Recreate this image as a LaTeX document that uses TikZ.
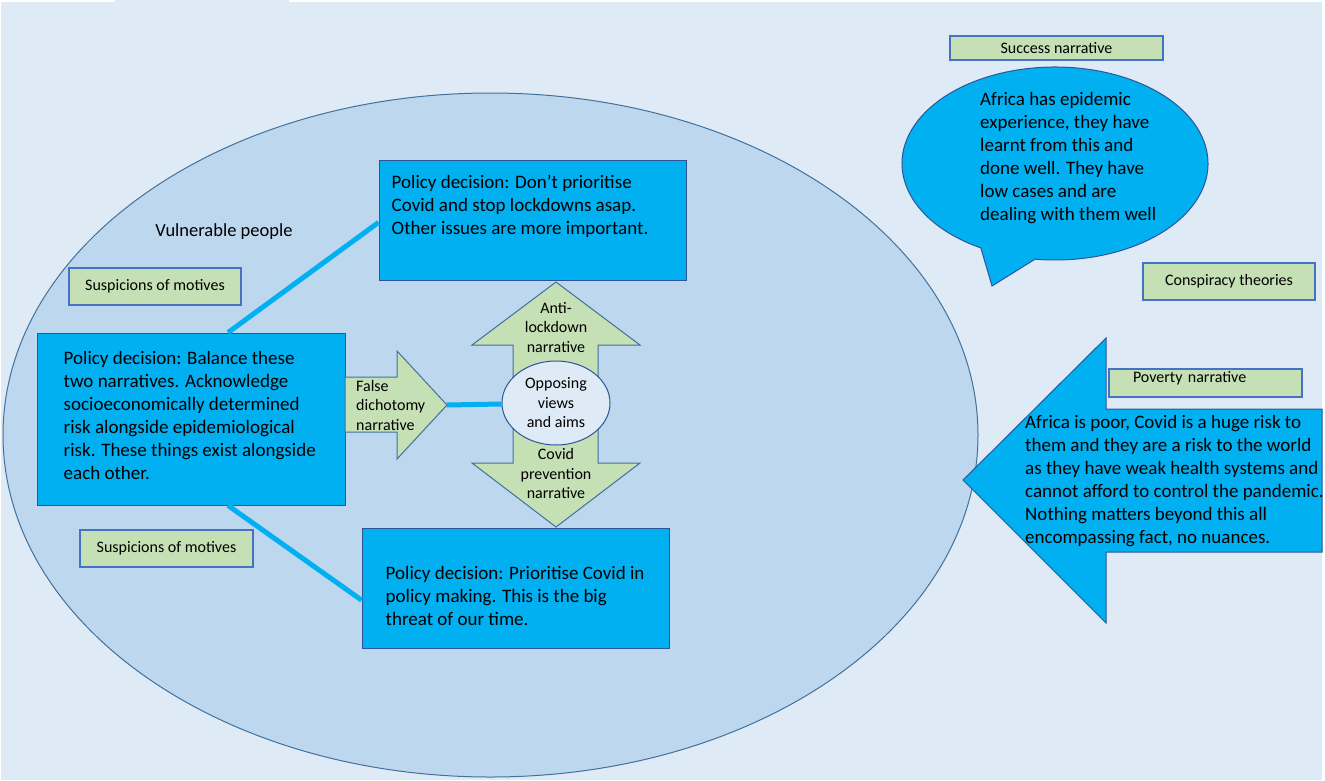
\documentclass[tikz,border=0pt]{standalone}
\usepackage{fontspec}
\setmainfont{Carlito}
\usepackage{tikz}
\usetikzlibrary{shapes.geometric,positioning,calc}
\definecolor{page}{HTML}{DEEBF7}
\definecolor{region}{HTML}{BDD7EE}
\definecolor{edge}{HTML}{2F5597}
\definecolor{rim}{HTML}{41719C}
\definecolor{cyanbox}{HTML}{00B0F0}
\definecolor{leaf}{HTML}{C5E0B4}
\definecolor{tagedge}{HTML}{4472C4}

\begin{document}
\begin{tikzpicture}[
  x=1pt,y=-1pt,
  every node/.style={text=black},
  decision/.style={rectangle,draw=edge,fill=cyanbox,line width=1pt,inner sep=0pt},
  bodytext/.style={anchor=north west,align=left,inner sep=0pt,font=\fontsize{19}{23}\selectfont},
  tagbox/.style={rectangle,draw=tagedge,fill=leaf,line width=1.2pt,inner sep=0pt,font=\fontsize{16}{19}\selectfont},
  arrowtext/.style={align=center,inner sep=0pt,font=\fontsize{16}{19.5}\selectfont},
  greenarrow/.style={draw=rim,fill=leaf,line width=1pt,line join=miter},
  link/.style={cyanbox,line width=5pt}
]
\useasboundingbox (0,0) rectangle (1325,780);
\fill[white] (0,0) rectangle (1325,780);
\fill[page] (1,2) rectangle (1322,780);
\fill[page] (115,0) rectangle (289,2);

% the vulnerable people region
\node[ellipse,draw=rim,fill=region,line width=1pt,minimum width=975,minimum height=684,inner sep=0pt] (vulnerable) at (490.5,435) {};
\node[font=\fontsize{18.5}{22}\selectfont] (vulnerable-lbl) at (224,232) {Vulnerable people};

% policy decisions
\node[decision,minimum width=307,minimum height=120] (dontprio) at (532.5,220) {};
\node[decision,minimum width=308,minimum height=172] (balance) at (191,419) {};
\node[decision,minimum width=307,minimum height=120] (prio) at (515.5,588) {};
\node[bodytext] (dontprio-txt) at ($(dontprio.north west)+(13,15.5)$) {Policy decision: Don’t prioritise\\Covid and stop lockdowns asap.\\Other issues are more important.};
\node[bodytext] (balance-txt) at ($(balance.north west)+(27,18.5)$) {Policy decision: Balance these\\two narratives. Acknowledge\\socioeconomically determined\\risk alongside epidemiological\\risk. These things exist alongside\\each other.};
\node[bodytext] (prio-txt) at ($(prio.north west)+(24,39)$) {Policy decision: Prioritise Covid in\\policy making. This is the big\\threat of our time.};

\draw[link] ($(balance.north west)!0.62!(balance.north east)$) -- ($(dontprio.north west)!0.52!(dontprio.south west)$);
\draw[link] ($(balance.south west)!0.62!(balance.south east)$) -- ($(prio.north west)!0.6!(prio.south west)$);

% narratives in the middle
\coordinate (fdtip) at (447,405);
\draw[greenarrow] (345,377) -- (397,377) -- (397,351) -- (fdtip) -- (397,459) -- (397,432) -- (345,432) -- cycle;
\node[arrowtext,align=left,anchor=west] (dichotomy) at (356,405) {False\\dichotomy\\narrative};
\draw[greenarrow] (556,282) -- (640,345) -- (598,345) -- (598,463) -- (640,463) -- (556,527)
  -- (472,463) -- (513,463) -- (513,345) -- (472,345) -- cycle;
\node[arrowtext] (antilock) at (556,327.5) {Anti-\\lockdown\\narrative};
\node[arrowtext] (prevention) at (556,473.5) {Covid\\prevention\\narrative};
\node[ellipse,draw=edge,fill=page,line width=1pt,minimum width=108,minimum height=84,arrowtext] (opposing) at (556,403) {Opposing\\views\\and aims};
\draw[link] (fdtip) -- (opposing);

\node[tagbox,minimum width=172,minimum height=37] (suspect-up) at (155,286.5) {Suspicions of motives};
\node[tagbox,minimum width=173,minimum height=37] (suspect-low) at (166.5,548.5) {Suspicions of motives};

% outside narratives
\node[tagbox,minimum width=213,minimum height=24] (success) at (1056.5,48) {Success narrative};
\coordinate (bubblec) at (1055,163.5);
\coordinate (bubbletip) at (992,286);
\draw[decision] (bubblec) ++(119:153 and 96.5) arc[start angle=119,end angle=457.5,x radius=153,y radius=96.5] -- (bubbletip) -- cycle;
\node[bodytext] (success-txt) at (980,92.5) {Africa has epidemic\\experience, they have\\learnt from this and\\done well. They have\\low cases and are\\dealing with them well};

\node[tagbox,minimum width=172,minimum height=37] (conspiracy) at (1229,281.5) {Conspiracy theories};
\node[tagbox,minimum height=28,inner xsep=24,text width=145,align=left,text depth=12pt] (poverty) at (1205.5,383) {Poverty narrative};

\draw[decision] (963,480) -- (1106,338) -- (1106,409) -- (1322,409) -- (1322,552) -- (1106,552) -- (1106,623) -- cycle;
\node[bodytext] (poverty-txt) at (1025,415.5) {Africa is poor, Covid is a huge risk to\\them and they are a risk to the world\\as they have weak health systems and\\cannot afford to control the pandemic.\\Nothing matters beyond this all\\encompassing fact, no nuances.};
\end{tikzpicture}
\end{document}
